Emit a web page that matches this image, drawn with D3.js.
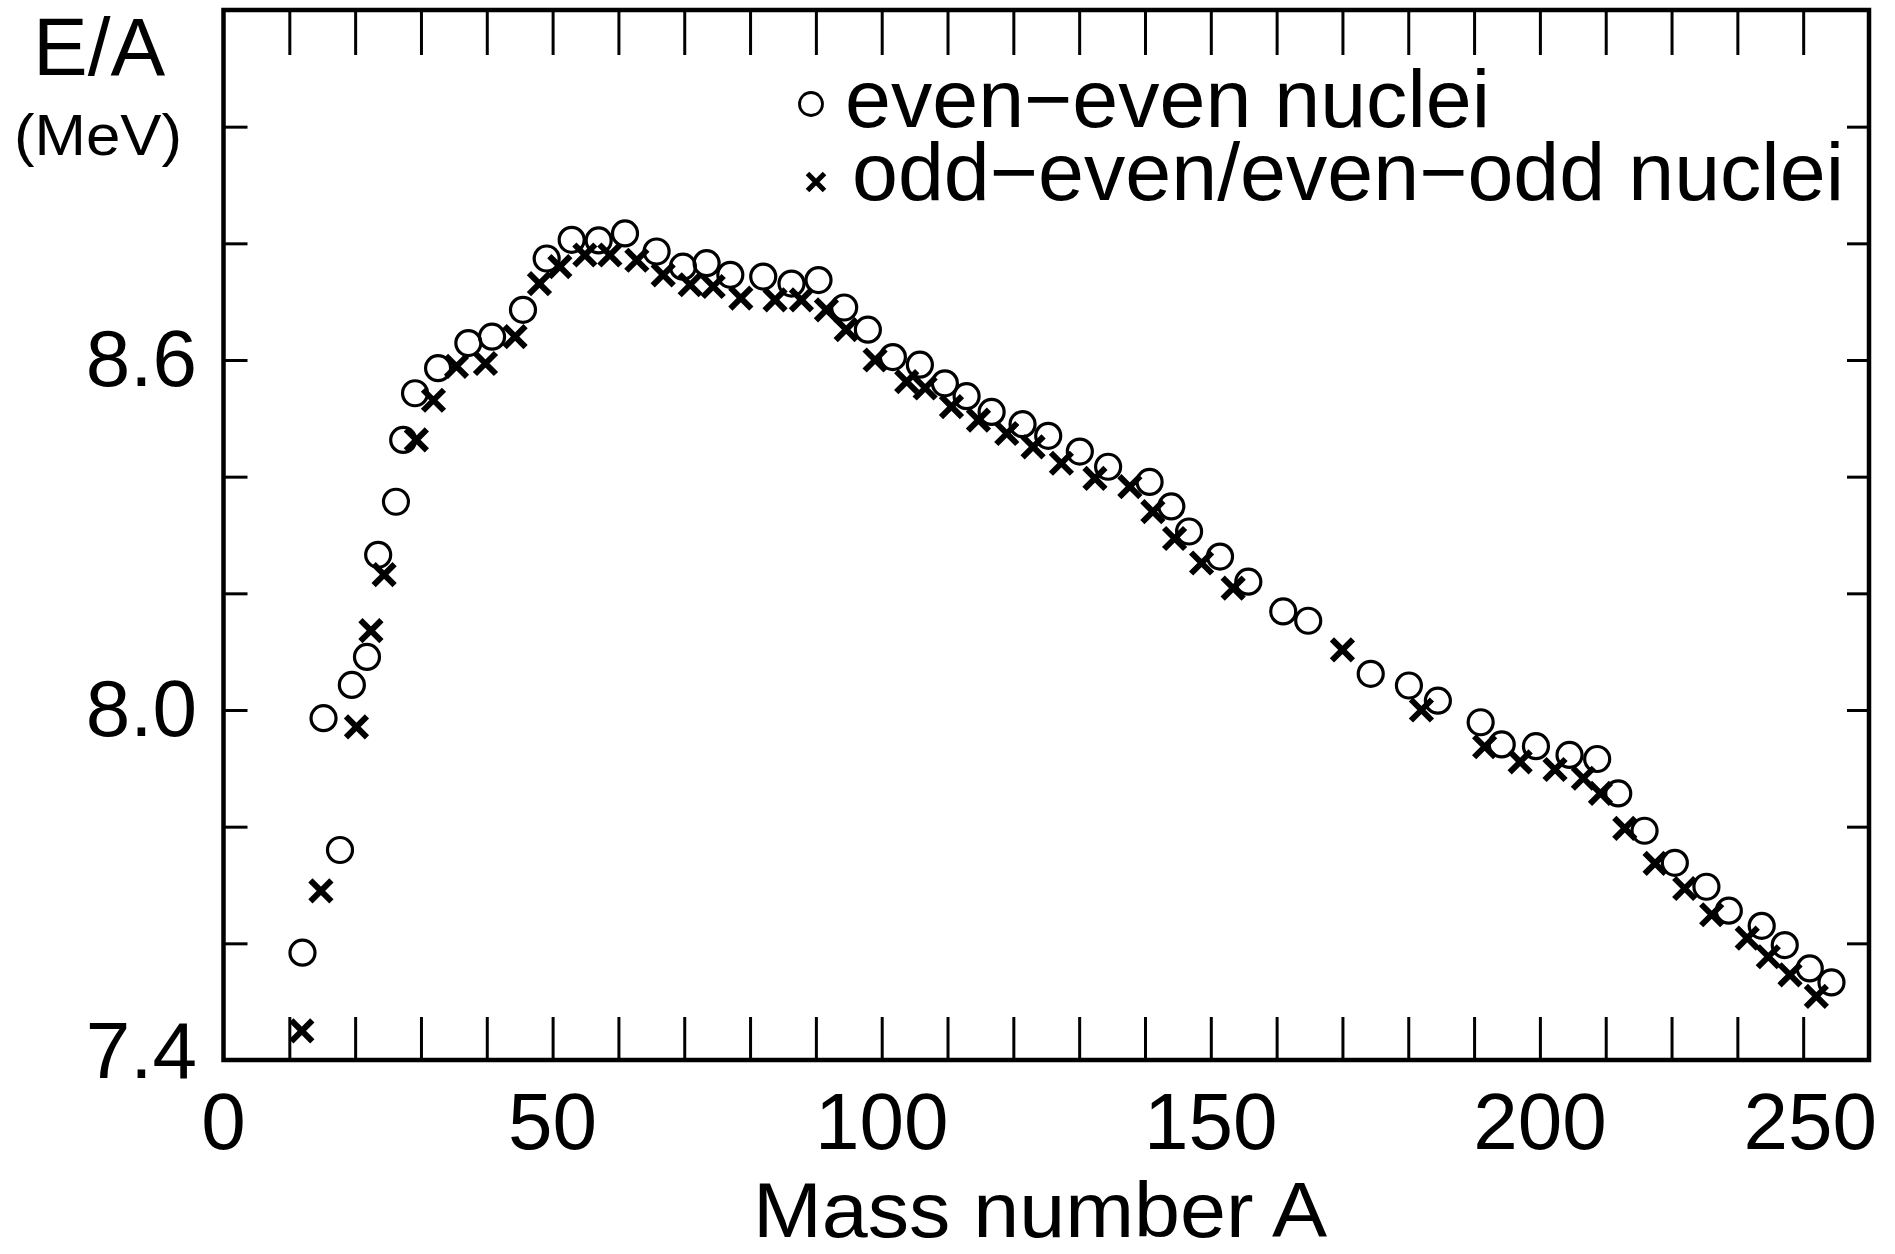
<!DOCTYPE html>
<html>
<head>
<meta charset="utf-8">
<script src="https://cdn.jsdelivr.net/npm/d3@7"></script>
<style>
  html, body { margin: 0; padding: 0; background: #fff; }
  svg { display: block; }
  text { font-family: "Liberation Sans", Arial, Helvetica, sans-serif; fill: #000; }
</style>
</head>
<body>
<svg id="chart" width="1895" height="1254"></svg>
<script>
// ---- data ----
const evenA = [12.0, 15.2, 17.7, 19.5, 21.8, 23.5, 26.2, 27.3, 29.1, 32.6, 37.2, 40.8, 45.5, 49.1, 52.9, 57.0, 61.0, 65.8, 69.8, 73.4, 77.0, 82.0, 86.3, 90.4, 94.3, 97.9, 101.7, 105.8, 109.6, 112.9, 116.7, 121.4, 125.3, 130.1, 134.4, 140.7, 144.0, 146.7, 151.4, 155.7, 161.0, 164.8, 174.3, 180.1, 184.5, 191.0, 194.2, 199.4, 204.5, 208.7, 211.9, 215.9, 220.5, 225.3, 228.7, 233.7, 237.2, 241.0, 244.3];
const evenE = [7.584, 7.986, 7.760, 8.043, 8.091, 8.266, 8.357, 8.463, 8.543, 8.586, 8.629, 8.640, 8.686, 8.774, 8.806, 8.805, 8.817, 8.786, 8.760, 8.766, 8.746, 8.743, 8.731, 8.737, 8.690, 8.652, 8.605, 8.592, 8.560, 8.538, 8.511, 8.490, 8.470, 8.443, 8.417, 8.391, 8.349, 8.306, 8.263, 8.220, 8.169, 8.153, 8.062, 8.042, 8.016, 7.979, 7.941, 7.938, 7.923, 7.916, 7.857, 7.793, 7.738, 7.697, 7.656, 7.630, 7.597, 7.557, 7.533];

const oddA = [11.9, 14.8, 20.2, 22.4, 24.4, 29.3, 31.9, 35.4, 39.8, 44.3, 48.0, 51.1, 54.9, 58.7, 62.8, 66.8, 70.9, 74.4, 78.6, 83.8, 87.8, 91.6, 94.6, 99.0, 103.8, 106.6, 110.6, 114.7, 119.0, 123.0, 127.3, 132.4, 137.7, 141.2, 144.5, 148.6, 153.4, 170.0, 182.0, 191.6, 197.0, 202.3, 206.6, 209.2, 212.9, 217.5, 222.0, 226.1, 231.5, 234.7, 238.0, 242.0];
const oddE = [7.450, 7.690, 7.971, 8.136, 8.232, 8.463, 8.531, 8.589, 8.594, 8.640, 8.731, 8.760, 8.780, 8.780, 8.771, 8.746, 8.729, 8.726, 8.706, 8.703, 8.703, 8.686, 8.652, 8.600, 8.563, 8.552, 8.520, 8.497, 8.474, 8.451, 8.423, 8.397, 8.383, 8.340, 8.294, 8.252, 8.209, 8.103, 8.000, 7.937, 7.911, 7.898, 7.883, 7.857, 7.797, 7.737, 7.694, 7.649, 7.609, 7.577, 7.546, 7.509];

const xTickLabels = [0, 50, 100, 150, 200, 250];
const xMinorTicks = [10, 20, 30, 40, 50, 60, 70, 80, 90, 100, 110, 120, 130, 140, 150, 160, 170, 180, 190, 200, 210, 220, 230, 240];
const yTickLabels = [7.4, 8.0, 8.6];
const yMinorTicks = [7.6, 7.8, 8.0, 8.2, 8.4, 8.6, 8.8, 9.0];
const legendLabels = ["even\u2212even nuclei", "odd\u2212even/even\u2212odd nuclei"];
const xTitle = "Mass number A";
const yTitle = "E/A";
const yUnit = "(MeV)";

// ---- layout ----
const svg = d3.select("#chart");
const L = 223.5, R = 1869, T = 10, B = 1060;
const x = d3.scaleLinear().domain([0, 250]).range([L, R]);
const y = d3.scaleLinear().domain([7.4, 9.2]).range([B, T]);

function styleAxis(g) {
  g.select(".domain").remove();
  g.selectAll(".tick line").attr("stroke", "#000").attr("stroke-width", 3);
  g.selectAll(".tick text").remove();
}

// inward ticks via d3 axes
svg.append("g").attr("transform", `translate(0,${B})`)
  .call(d3.axisBottom(x).tickValues(xMinorTicks).tickSize(-43)).call(styleAxis);
svg.append("g").attr("transform", `translate(0,${T})`)
  .call(d3.axisTop(x).tickValues(xMinorTicks).tickSize(-45)).call(styleAxis);
svg.append("g").attr("transform", `translate(${L},0)`)
  .call(d3.axisLeft(y).tickValues(yMinorTicks).tickSize(-24)).call(styleAxis);
svg.append("g").attr("transform", `translate(${R},0)`)
  .call(d3.axisRight(y).tickValues(yMinorTicks).tickSize(-22)).call(styleAxis);

// frame
svg.append("rect")
  .attr("x", L).attr("y", T).attr("width", R - L).attr("height", B - T)
  .attr("fill", "none").attr("stroke", "#000").attr("stroke-width", 4.5);

// x tick labels
svg.append("g").selectAll("text").data(xTickLabels).join("text")
  .attr("x", (d, i) => i === xTickLabels.length - 1 ? x(d) + 8 : x(d))
  .attr("y", 1149)
  .attr("text-anchor", (d, i) => i === xTickLabels.length - 1 ? "end" : "middle")
  .attr("font-size", 80)
  .text(d => d);

// y tick labels
svg.append("g").selectAll("text").data(yTickLabels).join("text")
  .attr("x", 197)
  .attr("y", d => Math.min(y(d) + 26, 1078))
  .attr("text-anchor", "end")
  .attr("font-size", 80)
  .text(d => d3.format(".1f")(d));

// titles
svg.append("text").attr("x", 1040).attr("y", 1237).attr("text-anchor", "middle")
  .attr("font-size", 78).attr("textLength", 574).attr("lengthAdjust", "spacingAndGlyphs")
  .text(xTitle);
svg.append("text").attr("x", 33).attr("y", 75).attr("font-size", 82).text(yTitle);
svg.append("text").attr("x", 14).attr("y", 155).attr("font-size", 58)
  .attr("textLength", 168).attr("lengthAdjust", "spacingAndGlyphs").text(yUnit);

// markers
const evenData = evenA.map((a, i) => ({a, e: evenE[i]}));
const oddData = oddA.map((a, i) => ({a, e: oddE[i]}));

const crossPath = s => `M${-s},${-s}L${s},${s}M${-s},${s}L${s},${-s}`;

svg.append("g").selectAll("path").data(oddData).join("path")
  .attr("transform", d => `translate(${x(d.a)},${y(d.e)})`)
  .attr("d", crossPath(10.5))
  .attr("fill", "none").attr("stroke", "#000").attr("stroke-width", 6);

svg.append("g").selectAll("circle").data(evenData).join("circle")
  .attr("cx", d => x(d.a)).attr("cy", d => y(d.e)).attr("r", 12.5)
  .attr("fill", "none").attr("stroke", "#000").attr("stroke-width", 3.2);

// legend
const lg = svg.append("g");
lg.append("circle").attr("cx", 811).attr("cy", 104).attr("r", 11.5)
  .attr("fill", "none").attr("stroke", "#000").attr("stroke-width", 2.8);
lg.append("path").attr("transform", "translate(816,182)").attr("d", crossPath(8.5))
  .attr("fill", "none").attr("stroke", "#000").attr("stroke-width", 5);
lg.append("text").attr("x", 845).attr("y", 127).attr("font-size", 82)
  .attr("textLength", 645).attr("lengthAdjust", "spacingAndGlyphs").text(legendLabels[0]);
lg.append("text").attr("x", 852).attr("y", 200).attr("font-size", 82)
  .attr("textLength", 992).attr("lengthAdjust", "spacingAndGlyphs").text(legendLabels[1]);
</script>
</body>
</html>
